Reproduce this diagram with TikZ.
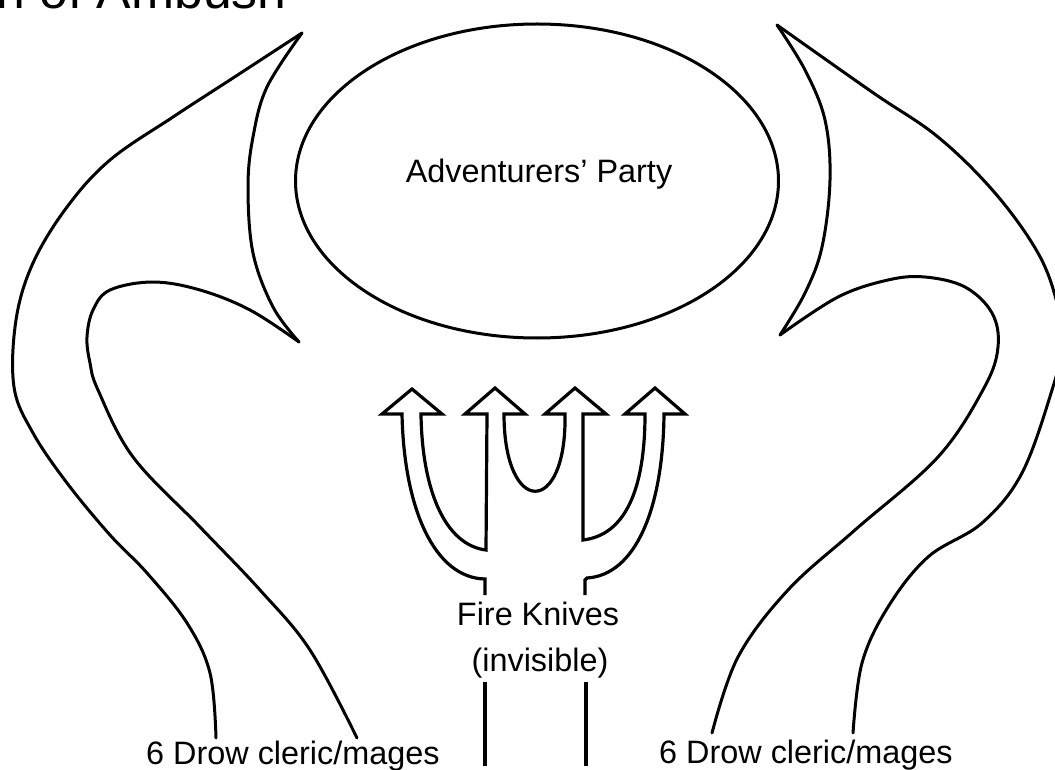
\documentclass[tikz,border=0pt]{standalone}
\usepackage{fontspec}
\setmainfont{Liberation Sans}
\usetikzlibrary{shapes.geometric}
\tikzset{
  ink/.style={draw=black, line width=3pt, line cap=round, line join=round},
  arrowline/.style={draw=black, line width=3.2pt, line join=miter},
  lbl/.style={anchor=base, inner sep=0pt, font=\fontsize{32.4}{38}\selectfont},
  titlelbl/.style={anchor=base west, inner sep=0pt, font=\fontsize{51.7}{60}\selectfont}
}
\begin{document}
\begin{tikzpicture}[x=1pt, y=-1pt]
\useasboundingbox (0,0) rectangle (1055,770);
\clip (0,0) rectangle (1055,770);
\fill[white] (0,0) rectangle (1055,770);

% title (cut off at top edge)
\node[titlelbl] (title) at (-4,9) {n of Ambush};

% adventurers' party
\node[ink, ellipse, minimum width=483pt, minimum height=314pt] (ring) at (537,181) {};
\node[lbl] (party) at (539,183) {Adventurers’ Party};

% left band
\draw[ink] plot[smooth, tension=0.6] coordinates {(302,33) (233,78) (173,117) (110,160) (67,207) (33,263) (16,320) (14,387) (33,433) (67,483) (110,535) (147,573) (187,623) (210,673) (216,738)};
\draw[ink] plot[smooth, tension=0.6] coordinates {(302,33) (267,87) (253,137) (248,187) (253,253) (273,307) (299,342)};
\draw[ink] plot[smooth, tension=0.6] coordinates {(299,342) (250,310) (200,290) (153,282) (110,290) (93,310) (87,337) (90,363) (98,390) (133,457) (200,527) (260,590) (310,650) (357,738)};

% right band
\draw[ink] plot[smooth, tension=0.6] coordinates {(777,25) (872,92) (938,137) (995,193) (1038,253) (1057,303) (1062,345) (1052,390) (1022,473) (982,523) (928,557) (888,607) (862,663) (853,733)};
\draw[ink] plot[smooth, tension=0.6] coordinates {(777,25) (805,70) (825,120) (830,180) (822,247) (805,293) (780,335)};
\draw[ink] plot[smooth, tension=0.6] coordinates {(780,335) (838,297) (888,280) (925,277) (965,287) (992,313) (998,347) (984,388) (938,457) (855,530) (788,590) (738,657) (712,733)};

% fire knives arrows
\coordinate (tl) at (485,595);
\coordinate (tr) at (585,595);
\draw[arrowline] (tl) -- (485,579) .. controls (435,578) and (404,510) .. (402,414)
  -- (382,414) -- (412,389) -- (442,414) -- (421,414)
  .. controls (422,490) and (445,545) .. (486,550)
  -- (487,414) -- (465,414) -- (495,388) -- (525,414) -- (504,414)
  .. controls (504,517) and (567,517) .. (565,414)
  -- (545,414) -- (575,388) -- (606,414) -- (583,414)
  -- (583,540) .. controls (625,535) and (645,490) .. (645,414)
  -- (625,414) -- (655,388) -- (685,414) -- (664,414)
  .. controls (663,510) and (635,575) .. (587,578) -- (585,580) -- (tr);

\node[lbl] (fk) at (538,625) {Fire Knives};
\node[lbl] (inv) at (540,671) {(invisible)};

\coordinate (bl1) at (485,682);
\coordinate (bl2) at (485,766);
\coordinate (br1) at (586,682);
\coordinate (br2) at (586,766);
\draw[arrowline] (bl1) -- (bl2);
\draw[arrowline] (br1) -- (br2);

% drow labels
\node[lbl, anchor=base west] (drowl) at (146,764) {6 Drow cleric/mages};
\node[lbl, anchor=base west] (drowr) at (659,763) {6 Drow cleric/mages};
\end{tikzpicture}
\end{document}
